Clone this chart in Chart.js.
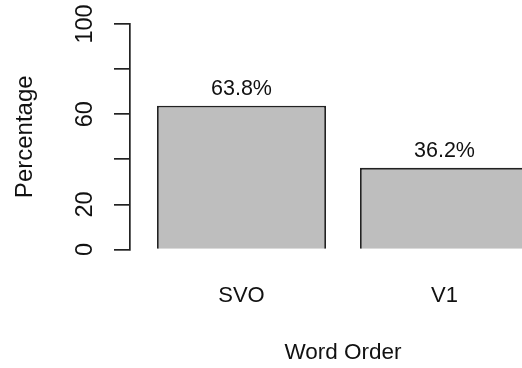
<!DOCTYPE html>
<html>
<head>
<meta charset="utf-8">
<script src="https://cdn.jsdelivr.net/npm/chart.js@4/dist/chart.umd.min.js"></script>
<style>
  html, body { margin: 0; padding: 0; background: #fff; overflow: hidden; width: 522px; height: 368px; }
  #wrap { width: 522px; height: 368px; overflow: hidden; }
  canvas { display: block; }
</style>
</head>
<body>
<div id="wrap"><canvas id="chart" width="560" height="368"></canvas></div>
<script>
// Share of each word order
const categories = ['SVO', 'V1'];
const percentages = [63.8, 36.2];
const yTickValues = [0, 20, 40, 60, 80, 100];
const yTickLabels = ['0', '20', '', '60', '', '100'];

const FONT = 'Liberation Sans, Arial, Helvetica, sans-serif';
const INK = '#111';
const LINE = '#222';

// Writes the percentage above each bar
const barValueLabels = {
  id: 'barValueLabels',
  afterDatasetsDraw(chart) {
    const ctx = chart.ctx;
    const meta = chart.getDatasetMeta(0);
    ctx.save();
    ctx.font = '21.5px ' + FONT;
    ctx.fillStyle = INK;
    ctx.textAlign = 'center';
    ctx.textBaseline = 'middle';
    meta.data.forEach((bar, i) => {
      ctx.fillText(percentages[i].toFixed(1) + '%', bar.x, bar.y - 16.5);
    });
    ctx.restore();
  }
};

new Chart(document.getElementById('chart'), {
  type: 'bar',
  data: {
    labels: categories,
    datasets: [{
      data: percentages,
      backgroundColor: '#bebebe',
      borderColor: LINE,
      borderWidth: 1.8,
      barPercentage: 0.8325,
      categoryPercentage: 1.0
    }]
  },
  options: {
    responsive: false,
    animation: false,
    devicePixelRatio: 1,
    layout: { padding: { left: 0, top: 24, right: 14, bottom: 0 } },
    plugins: { legend: { display: false }, tooltip: { enabled: false } },
    scales: {
      x: {
        type: 'category',
        offset: true,
        grid: { display: false, drawTicks: false },
        border: { display: false },
        ticks: { color: INK, font: { family: FONT, size: 22 }, padding: 33.5, maxRotation: 0 },
        title: { display: true, text: 'Word Order', color: INK, font: { family: FONT, size: 22.5 }, padding: { top: 0, bottom: 1.5 } },
        afterFit(scale) { scale.height = 118.5; scale.paddingLeft = 0; scale.paddingRight = 0; }
      },
      y: {
        type: 'linear',
        position: 'left',
        weight: 1,
        min: 0,
        max: 100,
        afterBuildTicks(scale) { scale.ticks = yTickValues.map(v => ({ value: v })); },
        grid: { display: true, drawOnChartArea: false, drawTicks: true, tickLength: 16, color: LINE, lineWidth: 1.7 },
        border: { display: true, color: LINE, width: 1.7 },
        ticks: {
          color: INK,
          font: { family: FONT, size: 23.5 },
          minRotation: 90,
          maxRotation: 90,
          crossAlign: 'center',
          padding: 9,
          callback(value, index) { return yTickLabels[index]; }
        },
        title: { display: true, text: 'Percentage', color: INK, font: { family: FONT, size: 24 }, padding: { top: 11, bottom: 0 } },
        afterFit(scale) { scale.width = 130; scale.paddingTop = 0; scale.paddingBottom = 0; }
      },
      gap: {
        type: 'linear',
        position: 'left',
        weight: 0,
        min: 0,
        max: 100,
        grid: { display: false, drawTicks: false },
        border: { display: false },
        ticks: { display: false },
        afterFit(scale) { scale.width = 10; scale.paddingTop = 0; scale.paddingBottom = 0; }
      }
    }
  },
  plugins: [barValueLabels]
});
</script>
</body>
</html>
